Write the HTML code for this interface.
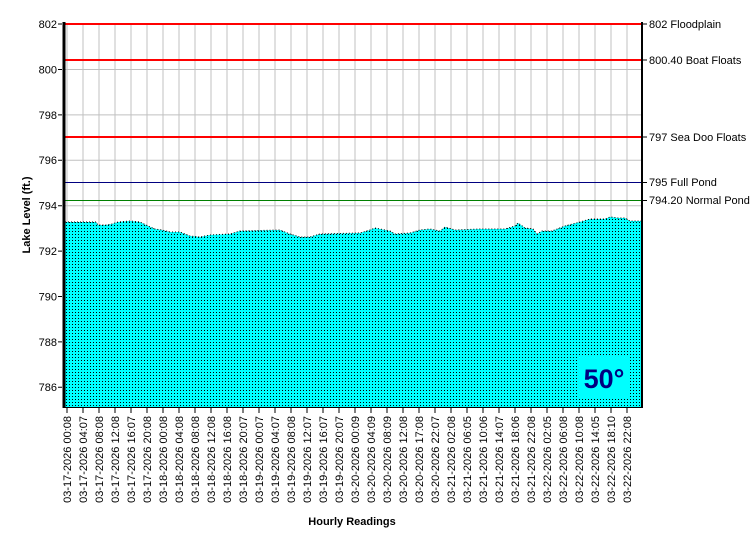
<!DOCTYPE html>
<html><head><meta charset="utf-8"><style>
body{margin:0;background:#fff;}
svg text{font-family:"Liberation Sans",Arial,sans-serif;}
</style></head><body>
<svg width="750" height="550" viewBox="0 0 750 550" xmlns="http://www.w3.org/2000/svg">
<defs>
<pattern id="p" width="3" height="3" patternUnits="userSpaceOnUse">
<rect width="3" height="3" fill="#00ffff"/><rect x="0" y="0" width="1" height="1" fill="#000"/>
</pattern>
</defs>
<rect width="750" height="550" fill="#fff"/>
<g stroke="#c0c0c0" stroke-width="1">
<path d="M67 24V407M83 24V407M99 24V407M115 24V407M131 24V407M147 24V407M163 24V407M179 24V407M195 24V407M211 24V407M227 24V407M243 24V407M259 24V407M275 24V407M291 24V407M307 24V407M323 24V407M339 24V407M355 24V407M371 24V407M387 24V407M403 24V407M419 24V407M435 24V407M451 24V407M467 24V407M483 24V407M499 24V407M515 24V407M531 24V407M547 24V407M563 24V407M579 24V407M595 24V407M611 24V407M627 24V407"/>
<path d="M64 69.5H642M64 114.9H642M64 160.3H642M64 205.7H642M64 251.1H642M64 296.5H642M64 341.9H642M64 387.3H642"/>
</g>
<polygon fill="url(#p)" points="65,407 65,222 96,222 98,225 106,225 112,224 118,222 130,221 140,222 148,226 155,229 162,230 170,232 180,232 190,236 200,237 210,235 230,234 240,231 280,230 290,234 300,237 310,237 320,234 360,233 370,230 375,228 390,231 395,234 410,233 420,230 430,229 440,231 445,227 455,230 480,229 505,229 515,226 518,223 525,228 533,229 537,234 542,231 552,231 565,226 580,222 590,219 605,219 610,217 618,218 625,218 630,221 641,221 641,407"/>
<polyline fill="none" stroke="#000" stroke-width="1" stroke-dasharray="1 2" points="65,222 96,222 98,225 106,225 112,224 118,222 130,221 140,222 148,226 155,229 162,230 170,232 180,232 190,236 200,237 210,235 230,234 240,231 280,230 290,234 300,237 310,237 320,234 360,233 370,230 375,228 390,231 395,234 410,233 420,230 430,229 440,231 445,227 455,230 480,229 505,229 515,226 518,223 525,228 533,229 537,234 542,231 552,231 565,226 580,222 590,219 605,219 610,217 618,218 625,218 630,221 641,221"/>
<rect x="578" y="356" width="52" height="42" fill="#00ffff"/>
<text x="604" y="388" font-size="27" font-weight="bold" fill="#000080" text-anchor="middle">50°</text>
<g stroke-width="2">
<line x1="64" y1="24" x2="642" y2="24" stroke="#ff0000"/>
<line x1="64" y1="60" x2="642" y2="60" stroke="#ff0000"/>
<line x1="64" y1="137" x2="642" y2="137" stroke="#ff0000"/>
</g>
<line x1="64" y1="182.5" x2="642" y2="182.5" stroke="#000080" stroke-width="1"/>
<line x1="64" y1="200.5" x2="642" y2="200.5" stroke="#008000" stroke-width="1"/>
<line x1="64" y1="22" x2="64" y2="408" stroke="#000" stroke-width="3"/>
<line x1="642" y1="22" x2="642" y2="408" stroke="#000" stroke-width="2"/>
<line x1="64" y1="407.5" x2="643" y2="407.5" stroke="#000" stroke-width="1"/>
<g stroke="#000" stroke-width="1">
<path d="M58 24H62M58 69.5H62M58 114.9H62M58 160.3H62M58 205.7H62M58 251.1H62M58 296.5H62M58 341.9H62M58 387.3H62"/>
<path d="M643 24H647M643 60H647M643 137H647M643 182.5H647M643 200.5H647"/>
<path d="M67 408V413M83 408V413M99 408V413M115 408V413M131 408V413M147 408V413M163 408V413M179 408V413M195 408V413M211 408V413M227 408V413M243 408V413M259 408V413M275 408V413M291 408V413M307 408V413M323 408V413M339 408V413M355 408V413M371 408V413M387 408V413M403 408V413M419 408V413M435 408V413M451 408V413M467 408V413M483 408V413M499 408V413M515 408V413M531 408V413M547 408V413M563 408V413M579 408V413M595 408V413M611 408V413M627 408V413"/>
</g>
<g font-size="11" text-anchor="end" fill="#000">
<text x="57" y="28">802</text><text x="57" y="73.5">800</text><text x="57" y="119">798</text><text x="57" y="164">796</text><text x="57" y="209.5">794</text><text x="57" y="255">792</text><text x="57" y="300.5">790</text><text x="57" y="346">788</text><text x="57" y="391">786</text>
</g>
<g font-size="11" fill="#000">
<text x="649" y="28">802 Floodplain</text>
<text x="649" y="64">800.40 Boat Floats</text>
<text x="649" y="141">797 Sea Doo Floats</text>
<text x="649" y="186">795 Full Pond</text>
<text x="649" y="204">794.20 Normal Pond</text>
</g>
<text x="30" y="215" font-size="11" font-weight="bold" text-anchor="middle" transform="rotate(-90 30 215)">Lake Level (ft.)</text>
<text x="352" y="525" font-size="11" font-weight="bold" text-anchor="middle">Hourly Readings</text>
<g font-size="11" fill="#000" text-anchor="end">
<text transform="translate(71,416) rotate(-90)">03-17-2026 00:08</text>
<text transform="translate(87,416) rotate(-90)">03-17-2026 04:07</text>
<text transform="translate(103,416) rotate(-90)">03-17-2026 08:08</text>
<text transform="translate(119,416) rotate(-90)">03-17-2026 12:08</text>
<text transform="translate(135,416) rotate(-90)">03-17-2026 16:07</text>
<text transform="translate(151,416) rotate(-90)">03-17-2026 20:08</text>
<text transform="translate(167,416) rotate(-90)">03-18-2026 00:08</text>
<text transform="translate(183,416) rotate(-90)">03-18-2026 04:08</text>
<text transform="translate(199,416) rotate(-90)">03-18-2026 08:08</text>
<text transform="translate(215,416) rotate(-90)">03-18-2026 12:08</text>
<text transform="translate(231,416) rotate(-90)">03-18-2026 16:08</text>
<text transform="translate(247,416) rotate(-90)">03-18-2026 20:07</text>
<text transform="translate(263,416) rotate(-90)">03-19-2026 00:07</text>
<text transform="translate(279,416) rotate(-90)">03-19-2026 04:07</text>
<text transform="translate(295,416) rotate(-90)">03-19-2026 08:08</text>
<text transform="translate(311,416) rotate(-90)">03-19-2026 12:07</text>
<text transform="translate(327,416) rotate(-90)">03-19-2026 16:07</text>
<text transform="translate(343,416) rotate(-90)">03-19-2026 20:07</text>
<text transform="translate(359,416) rotate(-90)">03-20-2026 00:09</text>
<text transform="translate(375,416) rotate(-90)">03-20-2026 04:09</text>
<text transform="translate(391,416) rotate(-90)">03-20-2026 08:09</text>
<text transform="translate(407,416) rotate(-90)">03-20-2026 12:08</text>
<text transform="translate(423,416) rotate(-90)">03-20-2026 17:08</text>
<text transform="translate(439,416) rotate(-90)">03-20-2026 22:07</text>
<text transform="translate(455,416) rotate(-90)">03-21-2026 02:08</text>
<text transform="translate(471,416) rotate(-90)">03-21-2026 06:05</text>
<text transform="translate(487,416) rotate(-90)">03-21-2026 10:06</text>
<text transform="translate(503,416) rotate(-90)">03-21-2026 14:07</text>
<text transform="translate(519,416) rotate(-90)">03-21-2026 18:06</text>
<text transform="translate(535,416) rotate(-90)">03-21-2026 22:08</text>
<text transform="translate(551,416) rotate(-90)">03-22-2026 02:05</text>
<text transform="translate(567,416) rotate(-90)">03-22-2026 06:08</text>
<text transform="translate(583,416) rotate(-90)">03-22-2026 10:08</text>
<text transform="translate(599,416) rotate(-90)">03-22-2026 14:05</text>
<text transform="translate(615,416) rotate(-90)">03-22-2026 18:10</text>
<text transform="translate(631,416) rotate(-90)">03-22-2026 22:08</text>
</g>
</svg>
</body></html>
